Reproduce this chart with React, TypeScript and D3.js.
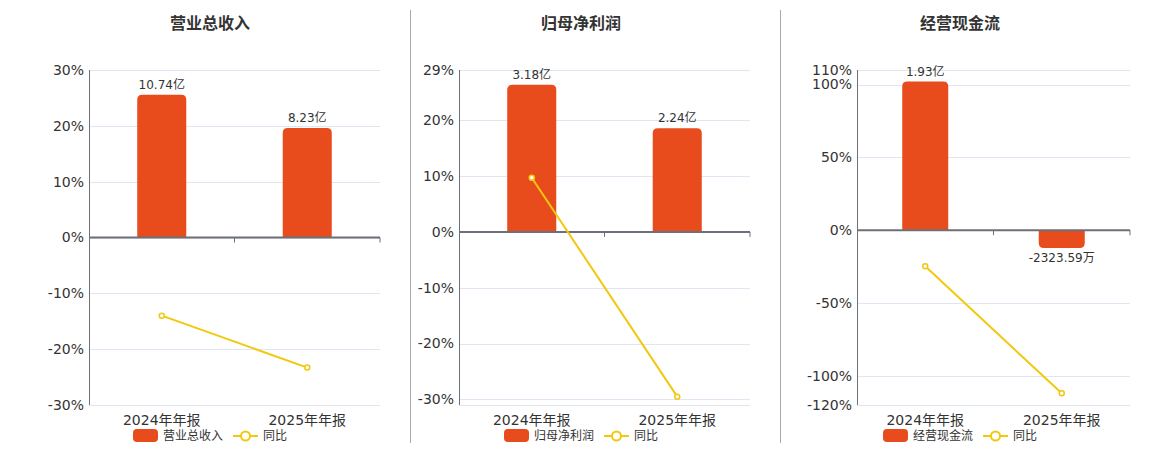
import React from "react";
import * as d3 from "d3";

const categories = ["2024年年报", "2025年年报"];
const panelTitles = ["营业总收入", "归母净利润", "经营现金流"];

const revenueValues = [10.74, 8.23];
const revenueLabels = ["10.74亿", "8.23亿"];
const revenueYoY = [-14.0, -23.3];
const revenueTicks = [30, 20, 10, 0, -10, -20, -30];
const revenueDomain = [-30, 30];
const revenueBarMax = 12.6;

const profitValues = [3.18, 2.24];
const profitLabels = ["3.18亿", "2.24亿"];
const profitYoY = [9.7, -29.5];
const profitTicks = [29, 20, 10, 0, -10, -20, -30];
const profitDomain = [-31, 29];
const profitBarMax = 3.5;

const cashValues = [1.93, -0.232359];
const cashLabels = ["1.93亿", "-2323.59万"];
const cashYoY = [-24.8, -112.0];
const cashTicks = [110, 100, 50, 0, -50, -100, -120];
const cashDomain = [-120, 110];
const cashBarMax = 2.08;

const W = 1160;
const H = 450;
const TOP = 70;
const BOTTOM = 405;
const BAR_COLOR = "#E84B1C";
const LINE_COLOR = "#F2C80F";
const AXIS_COLOR = "#6E7079";
const GRID_COLOR = "#E0E6F1";
const TEXT = "#333";
const FONT = "'DejaVu Sans', 'Noto Sans CJK SC', sans-serif";

const layouts = [
  { x0: 89, x1: 380, titleX: 210 },
  { x0: 459, x1: 750, titleX: 581 },
  { x0: 857, x1: 1130, titleX: 960 },
];
const dividers = [410.5, 780.5];

const panels = [
  { title: panelTitles[0], values: revenueValues, labels: revenueLabels, yoy: revenueYoY, ticks: revenueTicks, domain: revenueDomain, barMax: revenueBarMax },
  { title: panelTitles[1], values: profitValues, labels: profitLabels, yoy: profitYoY, ticks: profitTicks, domain: profitDomain, barMax: profitBarMax },
  { title: panelTitles[2], values: cashValues, labels: cashLabels, yoy: cashYoY, ticks: cashTicks, domain: cashDomain, barMax: cashBarMax },
];

function roundedBar(x: number, w: number, y0: number, y1: number, r: number) {
  // y0 = zero line, y1 = value end; round corners at value end
  const h = Math.abs(y1 - y0);
  const rr = Math.min(r, h, w / 2);
  if (y1 < y0) {
    return `M${x},${y0}V${y1 + rr}Q${x},${y1} ${x + rr},${y1}H${x + w - rr}Q${x + w},${y1} ${x + w},${y1 + rr}V${y0}Z`;
  }
  return `M${x},${y0}V${y1 - rr}Q${x},${y1} ${x + rr},${y1}H${x + w - rr}Q${x + w},${y1} ${x + w},${y1 - rr}V${y0}Z`;
}

function Panel({ p, l }: { p: (typeof panels)[number]; l: (typeof layouts)[number] }) {
  const x = d3.scaleBand<string>().domain(categories).range([l.x0, l.x1]).paddingInner(0).paddingOuter(0);
  const y = d3.scaleLinear().domain(p.domain).range([BOTTOM, TOP]);
  const zeroY = y(0);
  const yb = d3.scaleLinear().domain([0, p.barMax]).range([zeroY, TOP]);
  const step = x.step();
  const bw = step * 0.337;
  const line = d3
    .line<number>()
    .x((_, i) => (x(categories[i]) as number) + step / 2)
    .y((d) => y(d));
  const gridVals = Array.from(new Set([...p.ticks, p.domain[0], p.domain[1]]));
  const lg = l.titleX - 77;
  return (
    <g>
      <text x={l.titleX} y={29} textAnchor="middle" fontSize={16} fontWeight="bold" fill={TEXT} fontFamily={FONT}>
        {p.title}
      </text>
      {gridVals.map((t) => (
        <line key={"g" + t} x1={l.x0} x2={l.x1} y1={Math.round(y(t)) + 0.5} y2={Math.round(y(t)) + 0.5} stroke={GRID_COLOR} strokeWidth={1} />
      ))}
      {p.ticks.map((t) => (
        <text key={"t" + t} x={l.x0 - 5} y={y(t)} dy="0.35em" textAnchor="end" fontSize={14} fill={TEXT} fontFamily={FONT}>
          {t + "%"}
        </text>
      ))}
      <line x1={l.x0 + 0.5} x2={l.x0 + 0.5} y1={TOP} y2={BOTTOM} stroke={AXIS_COLOR} strokeWidth={1} />
      {p.values.map((v, i) => {
        const cx = (x(categories[i]) as number) + step / 2;
        const y1 = yb(v);
        return (
          <g key={"b" + i}>
            <path d={roundedBar(cx - bw / 2, bw, zeroY, y1, 5)} fill={BAR_COLOR} />
            <text
              x={cx}
              y={v >= 0 ? y1 - 6 : y1 + 14}
              textAnchor="middle"
              fontSize={12}
              fill={TEXT}
              fontFamily={FONT}
            >
              {p.labels[i]}
            </text>
          </g>
        );
      })}
      <line x1={l.x0} x2={l.x1} y1={zeroY} y2={zeroY} stroke={AXIS_COLOR} strokeWidth={2} />
      {[...categories.map((c) => x(c) as number), l.x1].slice(1).map((tx, i) => (
        <line key={"tk" + i} x1={tx} x2={tx} y1={zeroY} y2={zeroY + 5} stroke={AXIS_COLOR} strokeWidth={1} />
      ))}
      <path d={line(p.yoy) || ""} fill="none" stroke={LINE_COLOR} strokeWidth={2} />
      {p.yoy.map((v, i) => (
        <circle key={"c" + i} cx={(x(categories[i]) as number) + step / 2} cy={y(v)} r={2.5} fill="#fff" stroke={LINE_COLOR} strokeWidth={1.5} />
      ))}
      {categories.map((c) => (
        <text key={"x" + c} x={(x(c) as number) + step / 2} y={425} textAnchor="middle" fontSize={14} fill={TEXT} fontFamily={FONT}>
          {c}
        </text>
      ))}
      <rect x={lg} y={429} width={25} height={13} rx={4} fill={BAR_COLOR} />
      <text x={lg + 30} y={436} dy="0.35em" fontSize={12} fill={TEXT} fontFamily={FONT}>
        {p.title}
      </text>
      <line x1={lg + 100} x2={lg + 125} y1={436} y2={436} stroke={LINE_COLOR} strokeWidth={2} />
      <circle cx={lg + 112.5} cy={436} r={4.5} fill="#fff" stroke={LINE_COLOR} strokeWidth={2} />
      <text x={lg + 130} y={436} dy="0.35em" fontSize={12} fill={TEXT} fontFamily={FONT}>
        同比
      </text>
    </g>
  );
}

export default function App() {
  return (
    <div style={{ position: "absolute", left: 0, top: 0 }}>
      <svg width={W} height={H} style={{ display: "block", background: "#fff" }}>
        {dividers.map((dx) => (
          <line key={dx} x1={dx} x2={dx} y1={10} y2={443} stroke="#aaa" strokeWidth={1} />
        ))}
        {panels.map((p, i) => (
          <Panel key={i} p={p} l={layouts[i]} />
        ))}
      </svg>
    </div>
  );
}
